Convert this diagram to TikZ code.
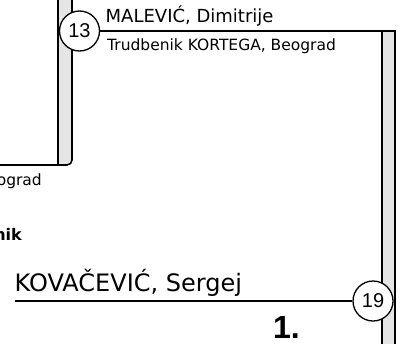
\documentclass[tikz,border=0pt]{standalone}
\usepackage{fontspec}
\setmainfont{DejaVu Sans}
\newfontfamily\arialfont{Liberation Sans}
\begin{document}
\begin{tikzpicture}[x=1pt,y=-1pt,
  lw/.style={line width=1.6pt},
  barfill/.style={fill=black!10},
  numcirc/.style={circle,draw,line width=1.3pt,fill=white,minimum size=40pt,inner sep=0pt,font=\arialfont\fontsize{20}{20}\selectfont},
  txt/.style={inner sep=0pt}]
\useasboundingbox (0,0) rectangle (401,343);
% left bar
\fill[barfill] (58,-5) -- (58,165) -- (67,165) -- (72,160) -- (72,-5) -- cycle;
\coordinate (lbtop) at (72,-5);
\coordinate (lbleft) at (0,165);
\coordinate (lbtopl) at (58,-5);
\coordinate (lbbotl) at (58,165);
\draw[lw,rounded corners=5pt] (lbtop) -- (72,165) -- (lbleft);
\draw[lw] (lbtopl) -- (lbbotl);
% right bar
\fill[barfill] (382,31) rectangle (395,350);
\node[numcirc] (c13) at (79.5,31) {13};
\coordinate (rbcorner) at (395,31);
\coordinate (rbbot) at (395,350);
\coordinate (rbltop) at (382,31);
\coordinate (rblbot) at (382,350);
\draw[lw] (c13.east) -- (rbcorner) -- (rbbot);
\draw[lw] (rbltop) -- (rblbot);
\node[numcirc] (c19) at (373,301) {19};
\coordinate (kline) at (15,301);
\draw[lw] (kline) -- (c19.west);
% texts
\node[txt,anchor=base west,font=\fontsize{18}{20}\selectfont] (n1) at (105.5,22) {MALEVIĆ, Dimitrije};
\node[txt,anchor=base west,font=\fontsize{15.5}{18}\selectfont] (n2) at (107,50) {Trudbenik KORTEGA, Beograd};
\node[txt,anchor=base east,font=\fontsize{15.5}{18}\selectfont] (n3) at (42,185) {ograd};
\node[txt,anchor=base east,font=\bfseries\fontsize{16}{18}\selectfont] (n4) at (22,240) {nik};
\node[txt,anchor=base west,font=\fontsize{24}{28}\selectfont] (n5) at (14.5,291.5) {KOVAČEVIĆ, Sergej};
\node[txt,anchor=base west,font=\arialfont\bfseries\fontsize{32}{36}\selectfont] (n6) at (273,338) {1.};
\end{tikzpicture}
\end{document}
